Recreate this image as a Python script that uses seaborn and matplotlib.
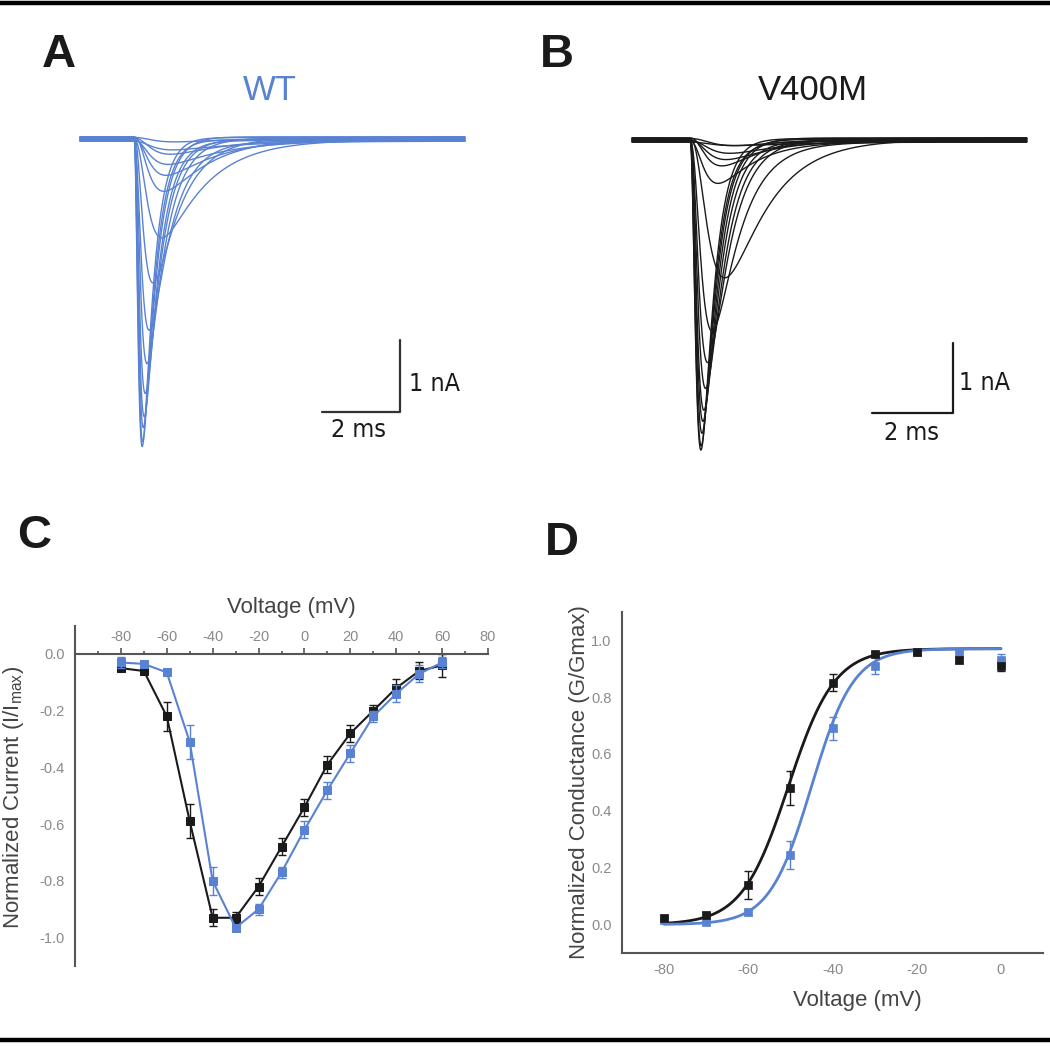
import numpy as np
import pandas as pd
import matplotlib
matplotlib.use("Agg")
import matplotlib.pyplot as plt
import seaborn as sns
from matplotlib.lines import Line2D
from matplotlib.ticker import MultipleLocator

sns.set_style("white")
plt.rcParams["font.family"] = ["Liberation Sans", "DejaVu Sans"]
plt.rcParams["axes.unicode_minus"] = False
plt.rcParams["mathtext.fontset"] = "custom"
plt.rcParams["mathtext.rm"] = "Liberation Sans"

BLUE = "#5a82d2"
BLACK = "#1a1a1a"
SPINE = "#555555"
TICKTXT = "#8a8a8a"

# ---------------- A / B : whole-cell current traces ----------------
# peak amplitude (nA), activation tau (ms), inactivation tau (ms), baseline offset (nA)
wt_peak = [4.25, 4.15, 4.0, 3.8, 3.5, 3.1, 2.6, 2.0, 1.35, 0.75, 0.5, 0.33, 0.22, 0.12, 0.06]
wt_tau_m = [0.09, 0.095, 0.1, 0.11, 0.12, 0.14, 0.16, 0.2, 0.28, 0.3, 0.32, 0.34, 0.36, 0.38, 0.4]
wt_tau_h = [0.28, 0.3, 0.33, 0.36, 0.4, 0.46, 0.55, 0.7, 1.1, 1.2, 1.3, 1.4, 1.5, 1.6, 1.7]
wt_offset = [0.02, -0.01, 0.03, -0.02, 0.0, 0.01, -0.03, 0.02, -0.01, 0.03, 0.0, -0.02, 0.01, -0.03, 0.02]

mut_peak = [4.45, 4.35, 4.2, 4.05, 3.85, 3.55, 3.2, 2.7, 1.98, 0.6, 0.4, 0.28, 0.18, 0.1, 0.05]
mut_tau_m = [0.13, 0.13, 0.14, 0.15, 0.16, 0.18, 0.2, 0.25, 0.4, 0.3, 0.35, 0.4, 0.45, 0.5, 0.5]
mut_tau_h = [0.3, 0.32, 0.34, 0.37, 0.4, 0.45, 0.52, 0.65, 1.0, 0.9, 1.0, 1.1, 1.2, 1.3, 1.4]
mut_offset = [0.02, -0.02, 0.01, 0.03, -0.01, 0.0, 0.02, -0.03, 0.01, -0.02, 0.03, 0.0, -0.01, 0.02, -0.03]

# ---------------- C : normalized I-V ----------------
iv_voltage = [-80, -70, -60, -50, -40, -30, -20, -10, 0, 10, 20, 30, 40, 50, 60]
iv_v400m = [-0.05, -0.06, -0.22, -0.59, -0.93, -0.93, -0.82, -0.68, -0.54, -0.39, -0.28, -0.20, -0.12, -0.06, -0.04]
iv_v400m_err = [0.01, 0.01, 0.05, 0.06, 0.03, 0.02, 0.03, 0.03, 0.03, 0.03, 0.03, 0.02, 0.03, 0.03, 0.04]
iv_wt = [-0.03, -0.035, -0.065, -0.31, -0.80, -0.965, -0.90, -0.77, -0.62, -0.48, -0.35, -0.22, -0.14, -0.07, -0.03]
iv_wt_err = [0.02, 0.01, 0.01, 0.06, 0.05, 0.01, 0.02, 0.02, 0.03, 0.03, 0.03, 0.02, 0.03, 0.03, 0.02]
iv_yticks = ["-1.0", "-0.8", "-0.6", "-0.4", "-0.2", "0.0"]

# ---------------- D : conductance-voltage ----------------
gv_voltage = [-80, -70, -60, -50, -40, -30, -20, -10, 0]
gv_v400m = [0.024, 0.034, 0.14, 0.48, 0.85, 0.95, 0.96, 0.93, 0.91]
gv_v400m_err = [0.01, 0.01, 0.05, 0.06, 0.03, 0.01, 0.01, 0.01, 0.02]
gv_wt = [0.015, 0.01, 0.045, 0.245, 0.69, 0.91, 0.96, 0.955, 0.93]
gv_wt_err = [0.01, 0.005, 0.01, 0.05, 0.04, 0.03, 0.01, 0.01, 0.02]
gv_yticks = ["0.0", "0.2", "0.4", "0.6", "0.8", "1.0"]
# Boltzmann fits: V1/2 (mV), slope (mV), Gmax
fit_v400m = (-50.5, 5.5, 0.97)
fit_wt = (-45.0, 5.0, 0.97)

W, H = 1050, 1046
fig = plt.figure(figsize=(W / 100, H / 100), dpi=100)


def px_axes(x0, y0, x1, y1):
    return fig.add_axes([x0 / W, 1 - y1 / H, (x1 - x0) / W, (y1 - y0) / H])


def trace_frame(peaks, tau_m, tau_h, offset, t):
    frames = []
    tt = np.clip(t, 0, None)
    for i, (a, tm, th, off) in enumerate(zip(peaks, tau_m, tau_h, offset)):
        shape = (1 - np.exp(-tt / tm)) ** 3 * np.exp(-tt / th)
        frames.append(pd.DataFrame({"t": t, "I": -a * shape / shape.max() + off, "trace": i}))
    return pd.concat(frames, ignore_index=True)


def draw_traces(ax, df, color, bar_x, bar_y, nA_pos, ms_pos, bar_color):
    sns.lineplot(data=df, x="t", y="I", units="trace", estimator=None, color=color,
                 lw=1.0, ax=ax, legend=False)
    ax.plot([bar_x - 2, bar_x, bar_x], [bar_y, bar_y, bar_y + 1], color=bar_color, lw=1.6)
    ax.text(*nA_pos, "1 nA", fontsize=18, family="DejaVu Sans", stretch="condensed",
            va="center", ha="left", color=BLACK)
    ax.text(*ms_pos, "2 ms", fontsize=18, family="DejaVu Sans", stretch="condensed",
            va="center", ha="center", color=BLACK)
    ax.set_axis_off()


# panel A
axA = px_axes(70, 108, 490, 465)
tA = np.arange(-1.385, 8.49, 0.005)
draw_traces(axA, trace_frame(wt_peak, wt_tau_m, wt_tau_h, wt_offset, tA), BLUE,
            6.82, -3.76, (7.05, -3.37), (5.75, -4.0), "#333333")
axA.set_xlim(-1.641, 9.128)
axA.set_ylim(-4.484, 0.426)

# panel B
axB = px_axes(620, 108, 1040, 465)
tB = np.arange(-1.43, 8.32, 0.005)
draw_traces(axB, trace_frame(mut_peak, mut_tau_m, mut_tau_h, mut_offset, tB), BLACK,
            6.49, -3.9, (6.65, -3.47), (5.48, -4.19), BLACK)
axB.set_xlim(-1.728, 8.642)
axB.set_ylim(-4.643, 0.457)


def style_axis(ax):
    for s in ax.spines.values():
        s.set_color(SPINE)
        s.set_linewidth(1.5)
    ax.tick_params(which="both", direction="out", color=SPINE, width=1.2,
                   labelsize=10.5, labelcolor=TICKTXT)
    ax.tick_params(which="major", length=4)
    ax.tick_params(which="minor", length=2.5)


# panel C
axC = px_axes(75, 625.6, 488, 966)
sns.lineplot(x=iv_voltage, y=iv_v400m, color=BLACK, marker="s", markersize=6,
             markeredgecolor=BLACK, lw=1.5, sort=False, ax=axC)
axC.errorbar(iv_voltage, iv_v400m, yerr=iv_v400m_err, fmt="none", ecolor=BLACK,
             elinewidth=1, capsize=3)
sns.lineplot(x=iv_voltage, y=iv_wt, color=BLUE, marker="s", markersize=6,
             markeredgecolor=BLUE, lw=1.5, sort=False, ax=axC)
axC.errorbar(iv_voltage, iv_wt, yerr=iv_wt_err, fmt="none", ecolor=BLUE,
             elinewidth=1, capsize=3)
axC.set_xlim(-100, 80)
axC.set_ylim(-1.1, 0.1)
axC.spines["top"].set_position(("data", 0))
axC.spines["bottom"].set_visible(False)
axC.spines["right"].set_visible(False)
axC.xaxis.set_ticks_position("top")
axC.xaxis.set_label_position("top")
axC.set_xticks(range(-80, 81, 20))
axC.xaxis.set_minor_locator(MultipleLocator(10))
axC.set_yticks([-1.0, -0.8, -0.6, -0.4, -0.2, 0.0])
axC.set_yticklabels(iv_yticks)
axC.yaxis.set_minor_locator(MultipleLocator(0.1))
style_axis(axC)
axC.tick_params(axis="x", pad=3)
axC.set_xlabel("Voltage (mV)", fontsize=16, color="#444444")
axC.xaxis.set_label_coords(0.523, 1.037)
axC.set_ylabel(r"Normalized Current (I/I$_{\mathrm{max}}$)", fontsize=16, color="#444444")
axC.yaxis.set_label_coords(-0.119, 0.496)

# panel D
axD = px_axes(622, 611.7, 1043, 953)
v_fit = np.linspace(-80, 0, 200)
for params, color in [(fit_v400m, BLACK), (fit_wt, BLUE)]:
    vh, k, gmax = params
    sns.lineplot(x=v_fit, y=gmax / (1 + np.exp((vh - v_fit) / k)), color=color, lw=2, ax=axD)
for y, err, color in [(gv_wt, gv_wt_err, BLUE), (gv_v400m, gv_v400m_err, BLACK)]:
    axD.errorbar(gv_voltage, y, yerr=err, fmt="none", ecolor=color, elinewidth=1, capsize=3)
    sns.scatterplot(x=gv_voltage, y=y, color=color, marker="s", s=40, edgecolor=color,
                    ax=axD, zorder=3)
axD.set_xlim(-90, 10)
axD.set_ylim(-0.1, 1.1)
axD.spines["top"].set_visible(False)
axD.spines["right"].set_visible(False)
axD.set_xticks(range(-80, 1, 20))
axD.xaxis.set_minor_locator(MultipleLocator(10))
axD.set_yticks([0.0, 0.2, 0.4, 0.6, 0.8, 1.0])
axD.set_yticklabels(gv_yticks)
axD.yaxis.set_minor_locator(MultipleLocator(0.1))
style_axis(axD)
axD.set_xlabel("Voltage (mV)", fontsize=16, color="#444444")
axD.xaxis.set_label_coords(0.558, -0.108)
axD.set_ylabel("Normalized Conductance (G/Gmax)", fontsize=16, color="#444444")
axD.yaxis.set_label_coords(-0.076, 0.501)

# titles and panel letters
fig.text(270 / W, 1 - 100 / H, "WT", fontsize=25, color=BLUE, ha="center", va="baseline")
fig.text(813 / W, 1 - 100 / H, "V400M", fontsize=25, color=BLACK, ha="center", va="baseline")
for letter, x, y in [("A", 42, 67), ("B", 540, 67), ("C", 17, 548), ("D", 545, 555)]:
    fig.text(x / W, 1 - y / H, letter, fontsize=34, weight="bold", color=BLACK,
             ha="left", va="baseline")

# frame lines
for y in (3, 1040):
    fig.add_artist(Line2D([0, 1], [1 - y / H, 1 - y / H], color="black", lw=3.2,
                          transform=fig.transFigure))

fig.savefig("out.png", dpi=100, facecolor="white")
